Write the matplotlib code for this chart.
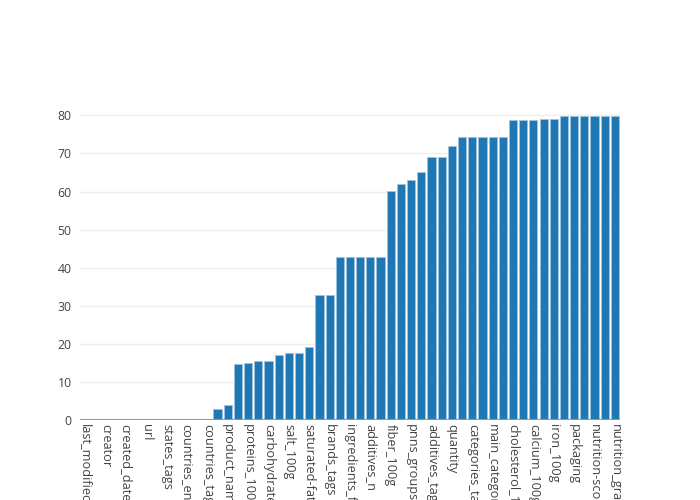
import numpy as np
import matplotlib
matplotlib.use("Agg")
from matplotlib import pyplot as plt
from matplotlib import transforms

# missing-value percentage per column, sorted ascending (53 columns)
values = [0, 0, 0, 0, 0, 0, 0, 0, 0, 0, 0.1, 0.1, 0.1, 2.8, 3.9,
          14.6, 14.9, 15.4, 15.4, 17.0, 17.7, 17.7, 19.2, 32.7, 32.7,
          42.9, 42.9, 42.9, 42.9, 42.9, 60.1, 62.1, 63.0, 65.1, 69.1, 69.1,
          72.0, 74.4, 74.4, 74.4, 74.4, 74.4, 78.7, 78.9, 78.9, 79.1, 79.1,
          79.7, 79.7, 79.8, 79.8, 79.8, 79.8]

# only every other column name is shown on the axis
shown_labels = ["last_modified_datetime", "creator", "created_datetime", "url",
                "states_tags", "countries_en", "countries_tags", "product_name",
                "proteins_100g", "carbohydrates_100g", "salt_100g",
                "saturated-fat_100g", "brands_tags", "ingredients_from_palm_oil_n",
                "additives_n", "fiber_100g", "pnns_groups_1", "additives_tags",
                "quantity", "categories_tags", "main_category", "cholesterol_100g",
                "calcium_100g", "iron_100g", "packaging", "nutrition-score-uk_100g",
                "nutrition_grade_fr"]
y_ticks = [0, 10, 20, 30, 40, 50, 60, 70, 80]

plt.rcParams['font.family'] = ['Open Sans', 'DejaVu Sans']

fig = plt.figure(figsize=(7, 5), dpi=100)
ax = fig.add_axes([80 / 700, 80 / 500, 540 / 700, 320 / 500])

x = np.arange(len(values))
ax.bar(x, values, width=0.8, color='#1f77b4', edgecolor='#9fc3de', linewidth=0.6, zorder=2)

ax.set_xlim(-0.5, len(values) - 0.5)
ax.set_ylim(0, max(values) * 1.053)
ax.set_yticks(y_ticks)
ax.set_xticks(x[::2])
ax.set_xticklabels(shown_labels, rotation=-90, ha='center', va='top', fontsize=9.2)

# nudge rotated labels a little left, like the original
shift = transforms.ScaledTranslation(-4 / 100, 0, fig.dpi_scale_trans)
for lbl in ax.get_xticklabels():
    lbl.set_transform(lbl.get_transform() + shift)

ax.grid(axis='y', color='#eeeeee', linewidth=1, zorder=0)
ax.axhline(0, color='#999999', linewidth=1.5, zorder=3)
for s in ax.spines.values():
    s.set_visible(False)
ax.tick_params(axis='both', length=0, colors='#444444')
ax.tick_params(axis='y', pad=6, labelsize=8.8)
ax.tick_params(axis='x', pad=3)

fig.savefig("out.png", dpi=100)
